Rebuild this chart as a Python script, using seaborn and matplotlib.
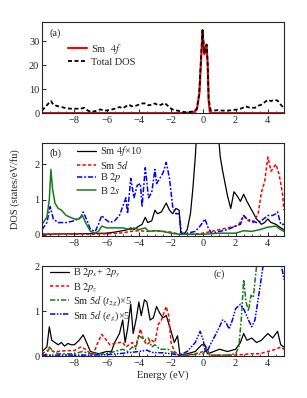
import numpy as np
import pandas as pd
import seaborn as sns
import matplotlib
matplotlib.use("Agg")
import matplotlib.pyplot as plt
from matplotlib.ticker import MultipleLocator

# ---------------- data ----------------
# Panel (a)
a_sm4f_e = [-10, -1.0, -0.6, -0.4, -0.25, -0.12, -0.05, 0.02, 0.06, 0.12, 0.2, 0.27, 0.33, 0.4, 0.6, 5]
a_sm4f_v = [0, 0, 0.3, 1.5, 8, 25, 34.5, 28, 24.5, 26, 28.5, 20, 5, 0.5, 0, 0]
a_tot_e = [-10, -9.8, -9.6, -9.45, -9.3, -9.1, -8.8, -8.5, -8.2, -7.9, -7.6, -7.4, -7.2, -7.0,
           -6.7, -6.4, -6.1, -5.8, -5.5, -5.2, -5.0, -4.8, -4.6, -4.45, -4.2, -4.0, -3.8, -3.6,
           -3.4, -3.2, -3.0, -2.8, -2.6, -2.4, -2.2, -2.0, -1.8, -1.6, -1.3, -1.0, -0.8, -0.6,
           -0.4, -0.25, -0.12, -0.05, 0.02, 0.06, 0.12, 0.2, 0.27, 0.33, 0.45, 0.6, 0.9, 1.2,
           1.5, 1.8, 2.1, 2.4, 2.6, 2.9, 3.2, 3.4, 3.6, 3.8, 4.0, 4.2, 4.4, 4.6, 4.8, 5.0]
a_tot_v = [1, 2.5, 4, 5, 3.5, 3, 2.5, 2, 1.8, 1.8, 1.8, 2.2, 1.2, 0.5,
           0.8, 1.5, 1, 1.2, 1.8, 2.5, 2, 2.8, 3.5, 2.8, 3, 3.5, 4, 4,
           3.2, 3.5, 4, 3.2, 3.5, 4.2, 3, 1.8, 1.2, 1, 0.5, 0.3, 0.5, 0.8,
           1.8, 8.5, 25.5, 34.5, 28.5, 25, 26.5, 28.5, 20.5, 6, 1.2, 1, 1.2, 1,
           1, 1.2, 1.5, 2, 2.8, 2.2, 2.2, 3, 3.5, 4.5, 5.5, 5, 5.5, 5.2, 3.5, 2]

# Panel (b)
b_sm4f_e = [-10, -9, -8, -7, -6, -5.5, -5, -4.7, -4.5, -4.3, -4.1, -3.8, -3.6, -3.45, -3.2, -3.0,
            -2.85, -2.6, -2.3, -2.1, -1.9, -1.7, -1.5, -1.4, -1.2, -1.0, -0.8, -0.65, -0.5, -0.4,
            0.9, 1.05, 1.2, 1.5, 1.7, 1.9, 2.1, 2.3, 2.5, 2.7, 3.0, 3.3, 3.6, 3.8, 4.0, 4.2,
            4.5, 4.8, 5.0]
b_sm4f_v = [0.02, 0.03, 0.03, 0.04, 0.05, 0.08, 0.12, 0.15, 0.2, 0.15, 0.22, 0.3, 0.5, 0.35, 0.4, 0.7,
            0.6, 0.65, 0.9, 0.7, 0.6, 0.75, 0.7, 0.05, 0.02, 0.15, 0.6, 1.3, 2.2, 3.0,
            3.0, 2.2, 1.8, 1.1, 0.75, 1.22, 1.1, 0.95, 1.15, 0.95, 0.7, 0.45, 0.3, 0.35, 0.45, 0.35,
            0.3, 0.2, 0.15]
b_sm5d_e = [-10, -9, -8, -7, -6, -5, -4.5, -4, -3.5, -3, -2.5, -2, -1.5, -1, -0.5, 0, 0.5,
            1.0, 1.5, 2.0, 2.2, 2.5, 2.8, 3.1, 3.4, 3.6, 3.8, 4.0, 4.2, 4.35, 4.5, 4.7, 4.9, 5.0]
b_sm5d_v = [0.02, 0.03, 0.03, 0.02, 0.03, 0.06, 0.1, 0.12, 0.1, 0.12, 0.1, 0.08, 0.02, 0.02, 0.03, 0.05, 0.1,
            0.15, 0.2, 0.25, 0.3, 0.55, 0.4, 0.35, 0.6, 1.2, 1.5, 2.2, 1.8, 1.9, 2.0, 1.7, 1.2, 0.7]
b_b2p_e = [-10, -9.7, -9.5, -9.3, -9, -8.5, -8, -7.6, -7.45, -7.2, -7, -6.7, -6.5, -6.3, -6.1,
           -5.8, -5.5, -5.2, -5.0, -4.8, -4.7, -4.5, -4.3, -4.1, -3.9, -3.8, -3.6, -3.4, -3.2,
           -3.0, -2.9, -2.7, -2.5, -2.3, -2.1, -1.9, -1.7, -1.5, -1.35, -1.0, -0.5, -0.2, 0.1,
           0.3, 0.5, 1.0, 1.5, 2.0, 2.3, 2.5, 2.7, 3.0, 3.3, 3.6, 4.0, 4.3, 4.5, 4.6, 4.8, 5.0]
b_b2p_v = [0.15, 0.35, 0.8, 0.45, 0.35, 0.35, 0.4, 0.5, 0.65, 0.4, 0.15, 0.1, 0.3, 0.55, 0.45,
           0.35, 0.4, 0.55, 0.8, 1.05, 0.6, 1.6, 1.05, 1.4, 1.45, 0.8, 1.9, 1.05, 1.2,
           1.85, 1.45, 1.6, 1.75, 2.05, 1.6, 0.8, 0.6, 0.6, 0.05, 0.05, 0.1, 0.25, 0.45,
           0.2, 0.05, 0.1, 0.15, 0.25, 0.3, 0.55, 0.45, 0.4, 0.35, 0.4, 0.55, 0.55, 0.6, 0.65, 0.3, 0.3]
b_b2s_e = [-10, -9.7, -9.55, -9.45, -9.35, -9.2, -9.0, -8.8, -8.5, -8.0, -7.7, -7.5, -7.3, -7.0,
           -6.7, -6.5, -6.3, -6.0, -5.5, -5.0, -4.5, -4.3, -4.0, -3.6, -3.4, -3.0, -2.5, -2.0,
           -1.5, -1.0, 0, 1.0, 2.0, 2.5, 3.0, 3.5, 4.0, 4.5, 4.8, 5.0]
b_b2s_v = [0.3, 0.5, 1.0, 1.85, 1.3, 0.9, 0.75, 0.7, 0.55, 0.45, 0.45, 0.55, 0.35, 0.1,
           0.05, 0.1, 0.25, 0.2, 0.2, 0.2, 0.15, 0.2, 0.15, 0.2, 0.1, 0.12, 0.1, 0.05,
           0.02, 0.02, 0.02, 0.05, 0.05, 0.12, 0.1, 0.15, 0.22, 0.25, 0.15, 0.1]

# Panel (c)
c_pxy_e = [-10, -9.7, -9.55, -9.4, -9.2, -9, -8.8, -8.6, -8.4, -8.2, -8.0, -7.7, -7.45, -7.3,
           -7.0, -6.5, -6.0, -5.7, -5.5, -5.2, -5.0, -4.85, -4.7, -4.5, -4.35, -4.15, -4.0,
           -3.85, -3.65, -3.5, -3.3, -3.1, -2.9, -2.7, -2.5, -2.3, -2.0, -1.8, -1.6, -1.45,
           -1.0, -0.5, -0.1, 0.1, 0.25, 0.5, 1.0, 1.5, 2.0, 2.3, 2.5, 2.7, 3.0, 3.3, 3.6,
           4.0, 4.3, 4.6, 4.8, 5.0]
c_pxy_v = [0.1, 0.2, 0.65, 0.35, 0.3, 0.25, 0.3, 0.22, 0.28, 0.25, 0.25, 0.35, 0.47, 0.35,
           0.1, 0.05, 0.1, 0.1, 0.3, 0.5, 0.8, 0.3, 0.6, 1.15, 0.5, 0.85, 1.2,
           0.9, 1.25, 1.2, 0.8, 0.85, 1.1, 0.95, 0.85, 0.9, 0.55, 0.3, 0.45, 0.02,
           0.05, 0.1, 0.25, 0.25, 0.05, 0.08, 0.15, 0.1, 0.15, 0.3, 0.5, 0.35, 0.4, 0.3, 0.35,
           0.5, 0.4, 0.55, 0.25, 0.2]
c_pz_e = [-10, -9.55, -9.3, -9, -8.5, -8, -7.6, -7.3, -7, -6.8, -6.6, -6.3, -6.0, -5.8, -5.5,
          -5.2, -5.0, -4.8, -4.6, -4.4, -4.2, -3.9, -3.7, -3.5, -3.2, -3.0, -2.8, -2.6, -2.45,
          -2.3, -2.15, -2.0, -1.8, -1.5, -1.0, -0.5, 0, 0.2, 0.4, 1, 2, 3, 3.5, 4, 4.5, 4.8, 5]
c_pz_v = [0.05, 0.15, 0.1, 0.1, 0.12, 0.12, 0.2, 0.15, 0.05, 0.05, 0.25, 0.48, 0.35, 0.25, 0.28,
          0.3, 0.3, 0.2, 0.25, 0.3, 0.2, 0.6, 0.35, 0.25, 0.35, 0.3, 0.7, 0.8, 0.95,
          1.1, 0.9, 0.3, 0.1, 0.02, 0.02, 0.05, 0.1, 0.15, 0.02, 0.02, 0.02, 0.05, 0.05, 0.1, 0.15, 0.2, 0.15]
c_t2g_e = [-10, -9.7, -9.55, -9.3, -9, -8, -7.5, -7, -6.5, -6.0, -5.5, -5.0, -4.7, -4.4, -4.2,
           -4.0, -3.8, -3.6, -3.4, -3.2, -3.0, -2.7, -2.5, -2.2, -2.0, -1.5, -1, 0, 0.2, 0.4,
           1.0, 1.5, 2.0, 2.2, 2.35, 2.5, 2.65, 2.8, 2.95, 3.1, 3.3, 3.4]
c_t2g_v = [0.0, 0.05, 0.2, 0.1, 0.05, 0.05, 0.1, 0.05, 0.05, 0.05, 0.1, 0.15, 0.1, 0.2, 0.15,
           0.45, 0.4, 0.35, 0.4, 0.2, 0.25, 0.15, 0.15, 0.15, 0.1, 0.02, 0.02, 0.05, 0.2, 0.02,
           0.02, 0.02, 0.05, 0.2, 0.8, 1.7, 1.2, 1.0, 1.35, 1.3, 2.0, 2.2]
c_eg_e = [-10, -9, -8, -7, -6, -5, -4.5, -4.0, -3.5, -3.2, -2.5, -2.0, -1.5, -1.0, -0.5, -0.2,
          0.0, 0.1, 0.3, 0.5, 0.8, 1.0, 1.2, 1.4, 1.6, 1.8, 2.0, 2.3, 2.5, 2.8, 3.0, 3.2, 3.5,
          3.7, 3.9, 4.6, 4.7, 4.85, 5.0]
c_eg_v = [0.02, 0.02, 0.02, 0.02, 0.03, 0.06, 0.08, 0.1, 0.13, 0.08, 0.07, 0.05, 0.02, 0.1, 0.3, 0.55,
          0.35, 0.1, 0.15, 0.3, 0.5, 0.65, 0.8, 0.75, 0.6, 0.8, 1.05, 1.15, 1.05, 0.8, 0.65, 0.8, 1.5,
          2.0, 2.3, 2.4, 2.3, 2.0, 1.7]

# ---------------- style ----------------
sns.set_theme(style="ticks")
plt.rcParams["font.family"] = ["Liberation Serif", "DejaVu Serif"]
plt.rcParams["mathtext.fontset"] = "stix"
plt.rcParams["xtick.direction"] = "in"
plt.rcParams["ytick.direction"] = "in"
plt.rcParams["axes.linewidth"] = 0.8

fig = plt.figure(figsize=(3.07, 3.98), dpi=100)
L, W = 0.137, 0.788
axA = fig.add_axes([L, 0.716, W, 0.229])
axB = fig.add_axes([L, 0.407, W, 0.234])
axC = fig.add_axes([L, 0.1055, W, 0.226])

FS = 7.5
dash = (0, (2.2, 1.4))
dashdot = (0, (3.5, 1.2, 1.2, 1.2))
dashdotdot = (0, (3.5, 1.0, 1.0, 1.0, 1.0, 1.0))


def line(ax, x, y, color, ls="-", lw=1.0, label=None):
    sns.lineplot(x=x, y=y, ax=ax, color=color, linestyle=ls, linewidth=lw,
                 label=label, sort=False, estimator=None)


leg_kw = dict(frameon=False, fontsize=FS, borderaxespad=0, borderpad=0,
              handlelength=1.8, handletextpad=0.4, loc="upper left")

# panel (a)
line(axA, a_sm4f_e, a_sm4f_v, "#ff0000", "-", 1.5, "Sm  $4f$")
line(axA, a_tot_e, a_tot_v, "black", dash, 1.3, "Total DOS")
axA.set_ylim(0, 38)
axA.set_yticks([0, 10, 20, 30])
axA.text(0.03, 0.93, "(a)", transform=axA.transAxes, fontsize=FS, va="top")
axA.legend(bbox_to_anchor=(0.107, 0.78), labelspacing=0.15, **leg_kw)

# panel (b)
line(axB, b_sm4f_e, b_sm4f_v, "black", "-", 0.9, "Sm $4f$×10")
line(axB, b_sm5d_e, b_sm5d_v, "#ff0000", dash, 1.1, "Sm $5d$")
line(axB, b_b2p_e, b_b2p_v, "#0000ff", dashdot, 1.1, "B $2p$")
line(axB, b_b2s_e, b_b2s_v, "#1a7a1a", "-", 1.1, "B $2s$")
axB.set_ylim(-0.03, 2.6)
axB.set_yticks([0, 1, 2])
axB.text(0.03, 0.94, "(b)", transform=axB.transAxes, fontsize=FS, va="top")
axB.legend(bbox_to_anchor=(0.145, 0.985), labelspacing=0.05, **leg_kw)
axB.set_ylabel("DOS (states/eV/fu)", fontsize=FS, labelpad=10)

# panel (c)
line(axC, c_pxy_e, c_pxy_v, "black", "-", 0.9, "B $2p_x$+ $2p_y$")
line(axC, c_pz_e, c_pz_v, "#ff0000", dash, 1.1, "B $2p_z$")
line(axC, c_t2g_e, c_t2g_v, "#1a7a1a", dashdot, 1.1, "Sm $5d$ ($t_{2g}$)×5")
line(axC, c_eg_e, c_eg_v, "#0000ff", dashdotdot, 1.1, "Sm $5d$ ($e_g$)×5")
axC.set_ylim(0, 2)
axC.set_yticks([0, 1, 2])
axC.text(0.71, 0.96, "(c)", transform=axC.transAxes, fontsize=FS, va="top")
axC.legend(bbox_to_anchor=(0.033, 0.99), labelspacing=0.05, **leg_kw)
axC.set_xlabel("Energy (eV)", fontsize=FS, labelpad=2)

for ax in (axA, axB, axC):
    ax.set_xlim(-10, 5)
    ax.set_xticks([-8, -6, -4, -2, 0, 2, 4])
    ax.xaxis.set_minor_locator(MultipleLocator(0.5))
    ax.tick_params(axis="both", which="major", labelsize=FS, length=3, width=0.7, pad=2)
    ax.tick_params(axis="x", which="minor", length=1.8, width=0.6)
    for s in ax.spines.values():
        s.set_visible(True)
        s.set_linewidth(0.8)
    if ax is not axC:
        ax.set_xlabel("")
    if ax is not axB:
        ax.set_ylabel("")

fig.savefig("out.png", dpi=100)
